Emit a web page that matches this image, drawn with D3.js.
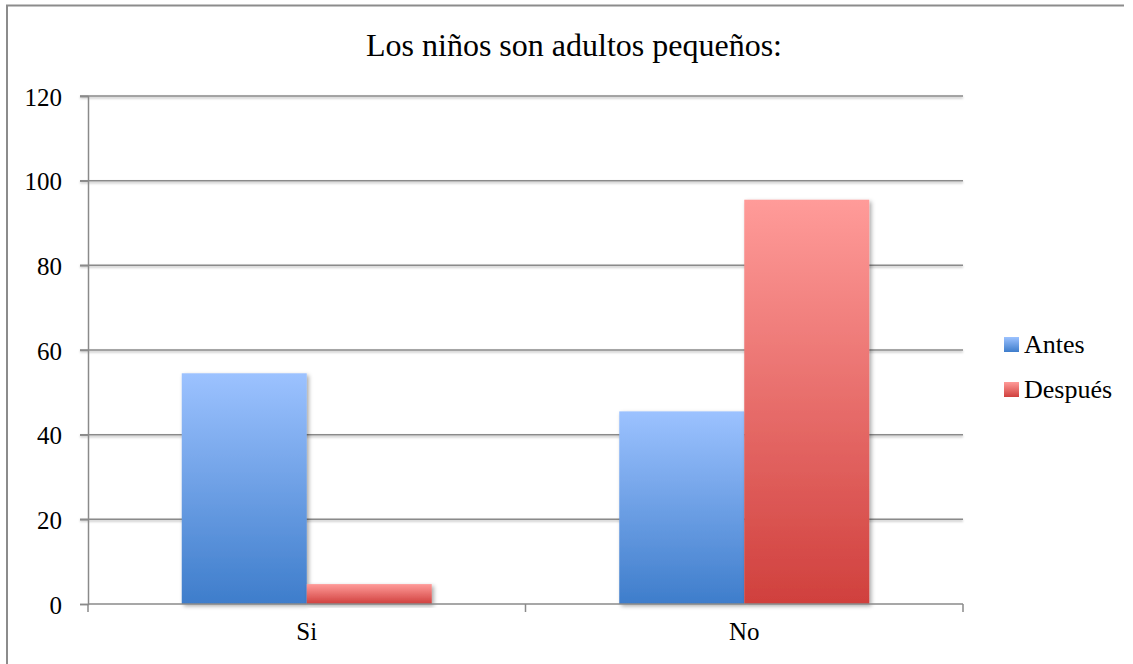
<!DOCTYPE html>
<html>
<head>
<meta charset="utf-8">
<script src="https://cdn.jsdelivr.net/npm/d3@7"></script>
<style>
  html, body { margin: 0; padding: 0; background: #fff; }
</style>
</head>
<body>
<svg id="chart" width="1133" height="664"></svg>
<script>
const categories = ["Si", "No"];
const seriesNames = ["Antes", "Después"];
const antes = [54.5, 45.5];
const despues = [4.7, 95.5];
const yTicks = [0, 20, 40, 60, 80, 100, 120];
const titleText = "Los niños son adultos pequeños:";

const svg = d3.select("#chart");
const W = 1133, H = 664;
const m = { left: 88, right: 963, top: 96, bottom: 604 };
const FONT = "'Liberation Serif'";

const defs = svg.append("defs");
const grads = [
  { id: "gBlue", top: "#9cc2ff", bottom: "#3e7dcb" },
  { id: "gRed", top: "#ff9b99", bottom: "#d0403d" }
];
grads.forEach(g => {
  const lg = defs.append("linearGradient").attr("id", g.id)
    .attr("x1", 0).attr("y1", 0).attr("x2", 0).attr("y2", 1);
  lg.append("stop").attr("offset", "0%").attr("stop-color", g.top);
  lg.append("stop").attr("offset", "100%").attr("stop-color", g.bottom);
});
const f = defs.append("filter").attr("id", "shadow")
  .attr("x", "-10%").attr("y", "-10%").attr("width", "130%").attr("height", "130%");
f.append("feDropShadow").attr("dx", 2).attr("dy", 2).attr("stdDeviation", 2)
  .attr("flood-color", "#000").attr("flood-opacity", 0.35);
const fl = defs.append("filter").attr("id", "lshadow")
  .attr("x", "-5%").attr("y", "-200%").attr("width", "110%").attr("height", "500%");
fl.append("feDropShadow").attr("dx", 0).attr("dy", 1.5).attr("stdDeviation", 0.8)
  .attr("flood-color", "#000").attr("flood-opacity", 0.3);

// outer border (top and left)
svg.append("path")
  .attr("d", `M7,${H} L7,5.5 L1124,5.5`)
  .attr("fill", "none").attr("stroke", "#8c8c8c").attr("stroke-width", 2);

// title
svg.append("text")
  .attr("x", 574).attr("y", 56)
  .attr("text-anchor", "middle")
  .style("font-family", FONT)
  .attr("font-size", 32).attr("fill", "#000")
  .text(titleText);

const y = d3.scaleLinear().domain([0, 120]).range([m.bottom, m.top]);
const x0 = d3.scaleBand().domain(categories).range([m.left, m.right]).paddingInner(0).paddingOuter(0);
const gapSide = x0.bandwidth() * 0.75 / 3.5;
const x1 = d3.scaleBand().domain(seriesNames)
  .range([gapSide, x0.bandwidth() - gapSide])
  .padding(0);

// gridlines
const grid = svg.append("g").attr("filter", "url(#lshadow)");
grid.selectAll("line").data(yTicks.filter(d => d > 0)).enter().append("line")
  .attr("x1", m.left - 8).attr("x2", m.right)
  .attr("y1", d => y(d)).attr("y2", d => y(d))
  .attr("stroke", "#8a8a8a").attr("stroke-width", 1.5);

// bars
const data = categories.map((c, i) => ({ cat: c, vals: [
  { s: "Antes", v: antes[i], fill: "url(#gBlue)" },
  { s: "Después", v: despues[i], fill: "url(#gRed)" }
]}));
const groups = svg.append("g").selectAll("g").data(data).enter().append("g")
  .attr("transform", d => `translate(${x0(d.cat)},0)`);
groups.selectAll("rect").data(d => d.vals).enter().append("rect")
  .attr("x", d => x1(d.s))
  .attr("width", x1.bandwidth())
  .attr("y", d => y(d.v))
  .attr("height", d => y(0) - y(d.v))
  .attr("fill", d => d.fill)
  .attr("filter", "url(#shadow)");

// y axis
const yAxis = d3.axisLeft(y).tickValues(yTicks).tickSize(8).tickPadding(18).tickFormat(d3.format("d"));
const ya = svg.append("g").attr("transform", `translate(${m.left},0)`).call(yAxis);
ya.attr("font-family", null);
ya.select(".domain").attr("stroke", "#8a8a8a").attr("stroke-width", 1.5);
ya.selectAll(".tick line").attr("stroke", "#8a8a8a").attr("stroke-width", 1.5);
ya.selectAll(".tick text").attr("font-size", 25).attr("fill", "#000")
  .style("font-family", FONT)
  .attr("dy", "0.36em");

// x axis
const xAxis = d3.axisBottom(x0).tickSize(0).tickPadding(28);
const xa = svg.append("g").attr("transform", `translate(0,${m.bottom})`).call(xAxis);
xa.attr("font-family", null);
xa.select(".domain").remove();
xa.append("line").attr("x1", m.left).attr("x2", m.right).attr("y1", 0).attr("y2", 0)
  .attr("stroke", "#8a8a8a").attr("stroke-width", 1.5);
const bounds = [m.left, m.left + x0.bandwidth(), m.right];
xa.selectAll(".bt").data(bounds).enter().append("line").attr("class", "bt")
  .attr("x1", d => d).attr("x2", d => d).attr("y1", 0).attr("y2", 8)
  .attr("stroke", "#8a8a8a").attr("stroke-width", 1.5);
xa.selectAll(".tick text").attr("font-size", 25).attr("fill", "#000")
  .style("font-family", FONT)
  .attr("dy", "0.3em");

// legend
const legend = svg.append("g");
const items = [
  { name: seriesNames[0], fill: "url(#gBlue)", y: 344 },
  { name: seriesNames[1], fill: "url(#gRed)", y: 389 }
];
const li = legend.selectAll("g").data(items).enter().append("g")
  .attr("transform", d => `translate(1004,${d.y})`);
li.append("rect").attr("x", 0).attr("y", -7).attr("width", 15).attr("height", 15)
  .attr("fill", d => d.fill);
li.append("text").attr("x", 20).attr("y", 9).attr("font-size", 26).attr("fill", "#000")
  .style("font-family", FONT)
  .text(d => d.name);
</script>
</body>
</html>
